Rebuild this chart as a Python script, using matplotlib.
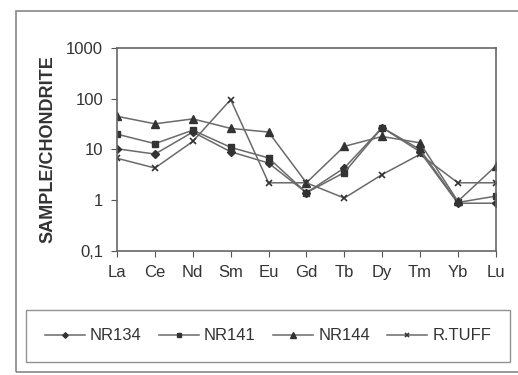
import numpy as np
import matplotlib.pyplot as plt
from matplotlib.patches import Rectangle
from matplotlib.ticker import FixedLocator, NullLocator

plt.rcParams['font.family'] = ['Liberation Sans', 'DejaVu Sans']

elementos = ['La', 'Ce', 'Nd', 'Sm', 'Eu', 'Gd', 'Tb', 'Dy', 'Tm', 'Yb', 'Lu']
nr134 = [10.3, 8.1, 22, 9, 5.4, 1.4, 4.3, 27, 9, 0.87, 0.87]
nr141 = [20, 13, 24, 11, 6.8, 1.4, 3.5, 27, 10, 0.9, 1.2]
nr144 = [45, 32, 40, 26, 22, 2.2, 11.5, 18, 13.5, 0.95, 4.7]
rtuff = [6.7, 4.3, 14.4, 96, 2.2, 2.2, 1.1, 3.2, 8, 2.2, 2.2]

yticks = [0.1, 1, 10, 100, 1000]
ytick_labels = ['0,1', '1', '10', '100', '1000']

fig = plt.figure(figsize=(5.18, 3.75), dpi=100)
ax = fig.add_axes([0.226, 0.331, 0.731, 0.541])

x = np.arange(len(elementos))
linea = '#6a6a6a'
ax.plot(x, nr134, color=linea, lw=1.1, marker='D', ms=4, mfc='#333333', mec='#333333', label='NR134')
ax.plot(x, nr141, color=linea, lw=1.1, marker='s', ms=5, mfc='#333333', mec='#333333', label='NR141')
ax.plot(x, nr144, color=linea, lw=1.1, marker='^', ms=5.5, mfc='#333333', mec='#333333', label='NR144')
ax.plot(x, rtuff, color=linea, lw=1.1, marker='x', ms=5, mec='#333333', mew=1.2, label='R.TUFF')

ax.set_yscale('log')
ax.set_ylim(0.1, 1000)
ax.set_xlim(0, len(elementos) - 1)
ax.yaxis.set_major_locator(FixedLocator(yticks))
ax.yaxis.set_minor_locator(NullLocator())
ax.set_yticklabels(ytick_labels)
ax.set_xticks(x)
ax.set_xticklabels(elementos)
ax.tick_params(axis='both', direction='out', length=4, color='#555555', labelsize=12, labelcolor='#333333', pad=6)
for s in ax.spines.values():
    s.set_color('#666666')
    s.set_linewidth(1.2)
ax.set_ylabel('SAMPLE/CHONDRITE', fontsize=13, fontweight='bold', color='#333333', labelpad=7)

# marco exterior
fig.patches.append(Rectangle((16 / 518, 3 / 375), 1.0, 361 / 375, transform=fig.transFigure,
                             fill=False, edgecolor='#888888', lw=1.2))

fig.legend(loc='center', bbox_to_anchor=(268 / 518, 1 - 336 / 375), ncol=4, frameon=True,
           fancybox=False, edgecolor='#777777', fontsize=12, handlelength=2.4, handletextpad=0.3,
           columnspacing=1.05, borderpad=1.1, markerscale=0.7, labelcolor='#333333')

fig.savefig('out.png', dpi=100)
